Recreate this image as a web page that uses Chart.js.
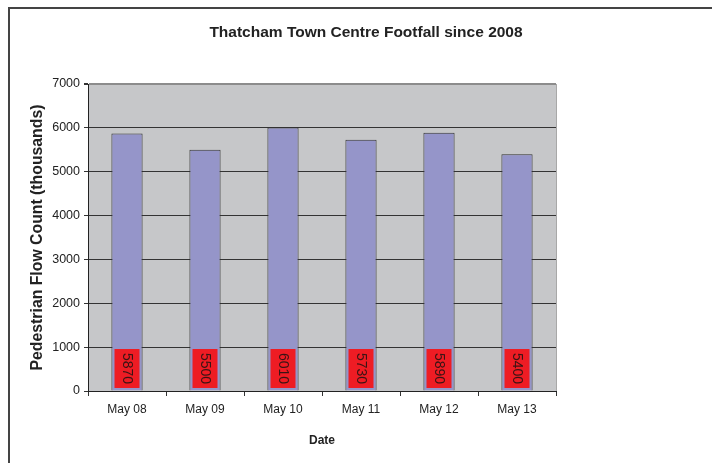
<!DOCTYPE html>
<html>
<head>
<meta charset="utf-8">
<script src="https://cdn.jsdelivr.net/npm/chart.js@4.4.1/dist/chart.umd.min.js"></script>
<style>
  html, body { margin: 0; padding: 0; background: #fff; }
  #wrap { position: relative; width: 712px; height: 463px; }
</style>
</head>
<body>
<div id="wrap"><canvas id="chart" width="712" height="463"></canvas></div>
<script>
const categories = ['May 08', 'May 09', 'May 10', 'May 11', 'May 12', 'May 13']
const footfall = [5870, 5500, 6010, 5730, 5890, 5400]
const yTicks = [0, 1000, 2000, 3000, 4000, 5000, 6000, 7000]
const chartTitle = 'Thatcham Town Centre Footfall since 2008'

const FONT = '"Liberation Sans", Arial, sans-serif'

// frame, plot background and the title
const framePlugin = {
    id: 'frame',
    beforeDraw(chart){
        const ctx = chart.ctx
        const a = chart.chartArea
        ctx.save()
        ctx.fillStyle = '#fff'
        ctx.fillRect(0, 0, chart.width, chart.height)
        ctx.strokeStyle = '#444'
        ctx.lineWidth = 2
        ctx.beginPath()
        ctx.moveTo(9, chart.height)
        ctx.lineTo(9, 8)
        ctx.lineTo(chart.width, 8)
        ctx.stroke()
        ctx.fillStyle = '#c6c7c9'
        ctx.fillRect(a.left, a.top, a.right - a.left, a.bottom - a.top)
        ctx.restore()
    },
    afterDraw(chart){
        const ctx = chart.ctx
        const a = chart.chartArea
        ctx.save()
        ctx.strokeStyle = '#a8a8a8'
        ctx.lineWidth = 1
        ctx.beginPath()
        ctx.moveTo(a.right + 0.5, a.top)
        ctx.lineTo(a.right + 0.5, a.bottom)
        ctx.stroke()
        ctx.fillStyle = '#222'
        ctx.font = 'bold 15.5px ' + FONT
        ctx.textAlign = 'center'
        ctx.textBaseline = 'middle'
        ctx.fillText(chartTitle, 366, 33)
        ctx.restore()
    }
}

// red value boxes at the foot of each bar, text turned clockwise
const valueBoxes = {
    id: 'valueBoxes',
    afterDatasetsDraw(chart){
        const ctx = chart.ctx
        const meta = chart.getDatasetMeta(0)
        const base = chart.scales.y.getPixelForValue(0)
        ctx.save()
        meta.data.forEach((bar, i) => {
            const w = 25, h = 39
            const x = bar.x - w / 2
            const y = base - 3 - h
            ctx.fillStyle = '#ee1c24'
            ctx.fillRect(x, y, w, h)
            ctx.save()
            ctx.translate(bar.x, y + h / 2)
            ctx.rotate(Math.PI / 2)
            ctx.fillStyle = '#3a1414'
            ctx.font = '14px ' + FONT
            ctx.textAlign = 'center'
            ctx.textBaseline = 'middle'
            ctx.fillText(String(footfall[i]), 0, 0)
            ctx.restore()
        })
        ctx.restore()
    }
}

new Chart(document.getElementById('chart'), {
    type: 'bar',
    data: {
        labels: categories,
        datasets: [{
            label: 'Footfall',
            data: footfall,
            backgroundColor: '#9595c9',
            borderColor: '#333',
            borderWidth: 1,
            borderSkipped: 'bottom',
            barPercentage: 0.4,
            categoryPercentage: 1.0,
        }]
    },
    options: {
        responsive: false,
        animation: false,
        devicePixelRatio: 1,
        layout: { padding: { left: 20, right: 156, top: 84, bottom: 10 } },
        plugins: {
            legend: { display: false },
            tooltip: { enabled: false },
            title: { display: false },
        },
        scales: {
            x: {
                offset: true,
                grid: {
                    offset: true,
                    drawOnChartArea: false,
                    drawTicks: true,
                    tickLength: 5,
                    tickColor: '#333',
                },
                border: { color: '#222', width: 1 },
                ticks: { color: '#222', font: { family: FONT, size: 12 }, padding: 6, maxRotation: 0 },
                title: {
                    display: true,
                    text: 'Date',
                    color: '#222',
                    font: { family: FONT, size: 12, weight: 'bold' },
                    padding: { top: 10, bottom: 5 },
                },
                afterFit(scale){ scale.height = 62 },
            },
            y: {
                min: 0,
                max: 7000,
                afterBuildTicks(scale){ scale.ticks = yTicks.map(v => ({ value: v })) },
                grid: {
                    color: ctx => ctx.tick && ctx.tick.value === 7000 ? '#8c8c8c' : '#333',
                    lineWidth: ctx => ctx.tick && ctx.tick.value === 7000 ? 2 : 1,
                    tickColor: '#333',
                    tickLength: 4,
                },
                border: { color: '#222', width: 1 },
                ticks: {
                    color: '#222',
                    font: { family: FONT, size: 12.5 },
                    padding: 4,
                    callback: v => String(v),
                },
                title: {
                    display: true,
                    text: 'Pedestrian Flow Count (thousands)',
                    color: '#222',
                    font: { family: FONT, size: 15.8, weight: 'bold' },
                    padding: { top: 8, bottom: 0 },
                },
                afterFit(scale){ scale.width = 68 },
            }
        }
    },
    plugins: [framePlugin, valueBoxes]
})
</script>
</body>
</html>
